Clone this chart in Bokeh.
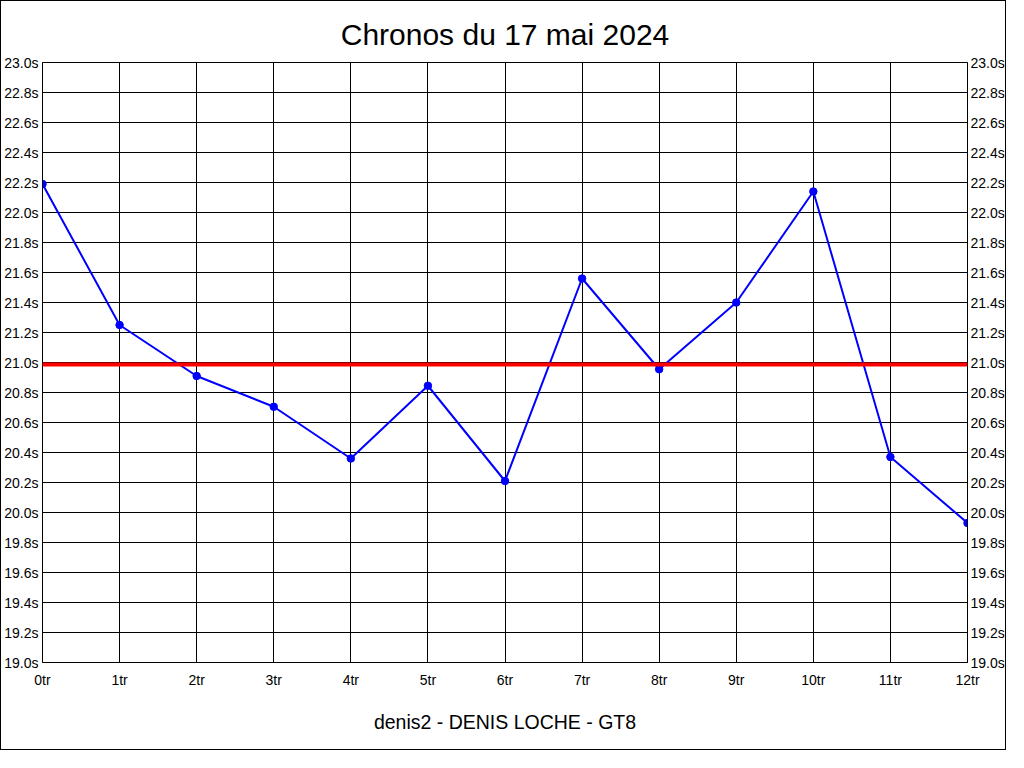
from bokeh.plotting import figure
from bokeh.models import (Range1d, FixedTicker, PrintfTickFormatter, LinearAxis,
                          Span, Title)
from bokeh.embed import file_html
from bokeh.resources import INLINE

# ---- data ----
laps = [0, 1, 2, 3, 4, 5, 6, 7, 8, 9, 10, 11, 12]
lap_labels = ["0tr", "1tr", "2tr", "3tr", "4tr", "5tr", "6tr", "7tr", "8tr", "9tr", "10tr", "11tr", "12tr"]
times = [22.19, 21.25, 20.91, 20.705, 20.36, 20.845, 20.21, 21.56, 20.955, 21.40, 22.14, 20.37, 19.93]
y_ticks = [19.0, 19.2, 19.4, 19.6, 19.8, 20.0, 20.2, 20.4, 20.6, 20.8,
           21.0, 21.2, 21.4, 21.6, 21.8, 22.0, 22.2, 22.4, 22.6, 22.8, 23.0]
average = sum(times) / len(times)

title_text = "Chronos du 17 mai 2024"
subtitle_text = "denis2 - DENIS LOCHE - GT8"

FONT = "Liberation Sans"

p = figure(width=1006, height=750, output_backend="svg", toolbar_location=None,
           x_range=Range1d(0, 12), y_range=Range1d(19.0, 23.0),
           min_border_left=40, min_border_right=40, min_border_top=61, min_border_bottom=89)
p.styles = {"border": "1px solid black"}
p.background_fill_color = "white"
p.border_fill_color = "white"
p.outline_line_color = "black"
p.outline_line_width = 1

p.title.text = title_text
p.title.align = "center"
p.title.text_font = FONT
p.title.text_font_size = "30px"
p.title.text_font_style = "normal"
p.title.text_color = "black"
p.title.standoff = 24

sub = Title(text=subtitle_text, align="center", text_font=FONT,
            text_font_size="19.5px", text_font_style="normal", text_color="black",
            standoff=36)
p.add_layout(sub, "below")

# axes
xt = FixedTicker(ticks=laps)
yt = FixedTicker(ticks=y_ticks)
p.xaxis.ticker = xt
p.xaxis.major_label_overrides = {i: l for i, l in zip(laps, lap_labels)}
p.xaxis.major_label_standoff = 9
p.yaxis.ticker = yt
p.yaxis.formatter = PrintfTickFormatter(format="%.1fs")
p.yaxis.major_label_standoff = 4

ry = LinearAxis(ticker=yt, formatter=PrintfTickFormatter(format="%.1fs"))
p.add_layout(ry, "right")

for ax in [p.xaxis[0], p.yaxis[0], ry]:
    ax.major_tick_out = 0
    ax.major_tick_in = 0
    ax.minor_tick_out = 0
    ax.minor_tick_in = 0
    ax.axis_line_color = "black"
    ax.major_label_text_font = FONT
    ax.major_label_text_font_size = "14px"
    ax.major_label_text_color = "black"
ry.major_label_standoff = 3

p.xgrid.ticker = xt
p.ygrid.ticker = yt
p.xgrid.grid_line_color = "black"
p.ygrid.grid_line_color = "black"
p.xgrid.grid_line_width = 1
p.ygrid.grid_line_width = 1

# average line
p.add_layout(Span(location=average, dimension="width", line_color="red", line_width=4))

# data line
p.line(laps, times, line_color="blue", line_width=2)
p.scatter(laps, times, size=7.5, fill_color="blue", line_color="blue")

open("out.html", "w").write(file_html(p, INLINE))
